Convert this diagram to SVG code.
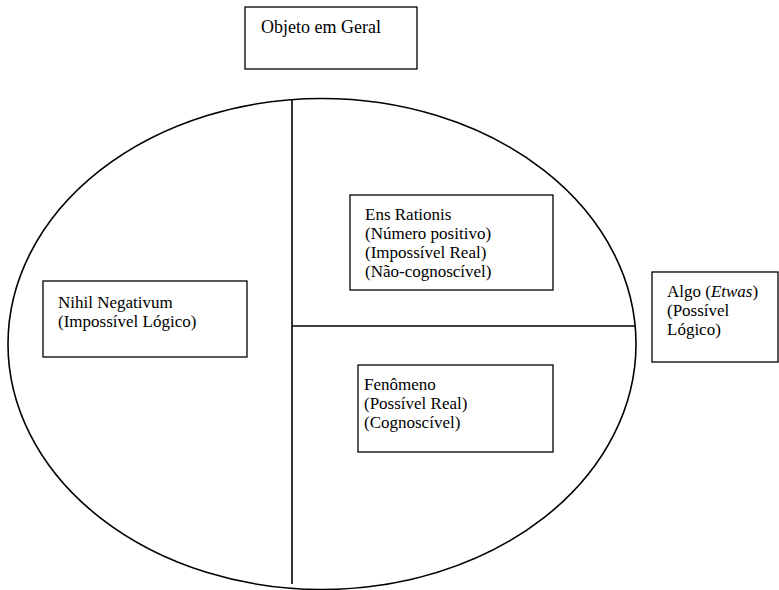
<svg xmlns="http://www.w3.org/2000/svg" width="779" height="590" viewBox="0 0 779 590">
<style>
.box{fill:#fff;stroke:#000;stroke-width:1.3}
.ln{fill:none;stroke:#000;stroke-width:1.6}
text{font-family:"Liberation Serif","Times New Roman",serif;font-size:17px;fill:#000}
</style>
<rect width="779" height="590" fill="#fff"/>
<g id="connectors">
<ellipse class="ln" cx="322" cy="344" rx="314" ry="245.5"/>
<line class="ln" x1="292" y1="99" x2="292" y2="584"/>
<line class="ln" x1="292" y1="326" x2="635" y2="326"/>
</g>
<g id="objeto">
<rect class="box" x="245" y="7" width="172" height="62"/>
<text x="261" y="33" style="font-size:18px">Objeto em Geral</text>
</g>
<g id="ens-rationis">
<rect class="box" x="350" y="195" width="203" height="95"/>
<text x="365" y="220">Ens Rationis<tspan x="365" dy="19">(Número positivo)</tspan><tspan x="365" dy="19">(Impossível Real)</tspan><tspan x="365" dy="19">(Não-cognoscível)</tspan></text>
</g>
<g id="nihil">
<rect class="box" x="43" y="281" width="204" height="76"/>
<text x="58" y="308">Nihil Negativum<tspan x="58" dy="19">(Impossível Lógico)</tspan></text>
</g>
<g id="fenomeno">
<rect class="box" x="358" y="365" width="195" height="87"/>
<text x="364" y="390">Fenômeno<tspan x="364" dy="19">(Possível Real)</tspan><tspan x="364" dy="19">(Cognoscível)</tspan></text>
</g>
<g id="algo">
<rect class="box" x="652" y="272" width="126" height="90"/>
<text x="667" y="297">Algo (<tspan font-style="italic">Etwas</tspan>)<tspan x="667" dy="19">(Possível</tspan><tspan x="667" dy="19">Lógico)</tspan></text>
</g>
</svg>
